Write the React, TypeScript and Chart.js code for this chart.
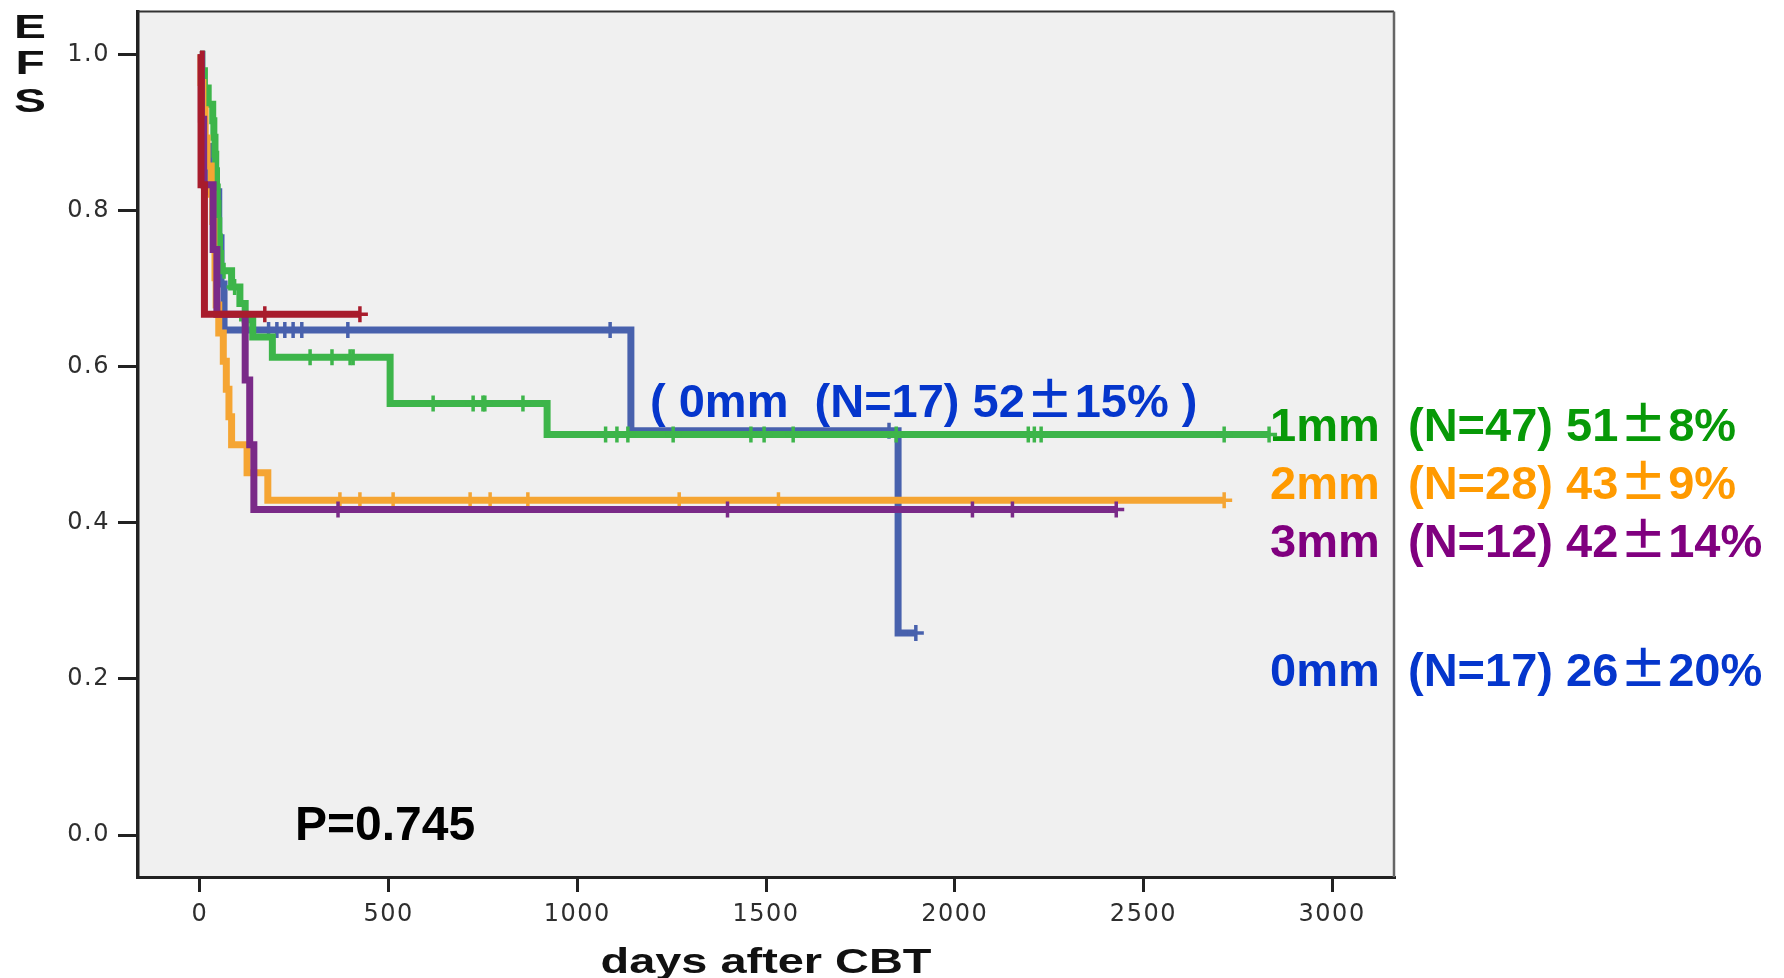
import React, { useEffect, useRef } from "react";
import { Chart, registerables } from "chart.js";

Chart.register(...registerables);

// Axis ticks
const xTicks = [0, 500, 1000, 1500, 2000, 2500, 3000];
const yTicks = [0, 0.2, 0.4, 0.6, 0.8, 1.0];

// Kaplan–Meier steps: day of each event and EFS just after it
const mm0Times = [0, 5, 12, 25, 50, 56, 64, 1142, 1850];
const mm0Surv = [1, 0.941, 0.882, 0.824, 0.765, 0.706, 0.647, 0.518, 0.259];
const mm0Censor = [182, 204, 225, 247, 270, 392, 1087, 1826, 1897];

const mm1Times = [0, 5, 12, 22, 34, 37, 40, 42, 44, 46, 48, 50, 52, 55, 84, 106, 120, 140, 192, 504, 920];
const mm1Surv = [1, 0.979, 0.957, 0.936, 0.915, 0.894, 0.872, 0.851, 0.83, 0.809, 0.787, 0.766, 0.745, 0.723, 0.702, 0.681, 0.66, 0.638, 0.612, 0.553, 0.513];
const mm1Censor = [64, 92, 125, 292, 350, 398, 406, 618, 724, 750, 755, 856, 1075, 1105, 1134, 1254, 1460, 1495, 1572, 1845, 2195, 2211, 2229, 2714, 2833];

const mm2Times = [0, 3, 8, 14, 19, 30, 34, 37, 40, 43, 50, 62, 70, 77, 84, 125, 180];
const mm2Surv = [1, 0.964, 0.929, 0.893, 0.857, 0.821, 0.786, 0.75, 0.714, 0.679, 0.643, 0.607, 0.571, 0.536, 0.5, 0.464, 0.429];
const mm2Censor = [371, 424, 512, 716, 769, 869, 1270, 1533, 2714];

const mm3Times = [0, 4, 10, 35, 45, 120, 132, 143];
const mm3Surv = [1, 0.917, 0.833, 0.75, 0.667, 0.583, 0.5, 0.417];
const mm3Censor = [366, 1398, 2047, 2153, 2428];

const otherTimes = [0, 3, 12];
const otherSurv = [1, 0.833, 0.667];
const otherCensor = [172, 424];

// Group summary labels
const groupNames = ["1mm", "2mm", "3mm", "0mm"];
const groupStats = ["(N=47) 51±8%", "(N=28) 43±9%", "(N=12) 42±14%", "(N=17) 26±20%"];
const groupTextColors = ["#079907", "#FF9A00", "#80007F", "#0536CC"];
const inlineNote = "( 0mm  (N=17) 52±15% )";
const pValue = "P=0.745";

type Pt = { x: number; y: number };

function stepPoints(times: number[], surv: number[], censor: number[]): Pt[] {
  const pts = times.map((t, i) => ({ x: t, y: surv[i] }));
  const end = Math.max(times[times.length - 1], ...censor);
  pts.push({ x: end, y: surv[surv.length - 1] });
  return pts;
}

function censorPoints(times: number[], surv: number[], censor: number[]): Pt[] {
  return censor.map((c) => {
    let v = surv[0];
    for (let i = 0; i < times.length; i++) if (times[i] <= c) v = surv[i];
    return { x: c, y: v };
  });
}

function curveSets(label: string, color: string, times: number[], surv: number[], censor: number[]) {
  return [
    {
      label: label + " censored",
      data: censorPoints(times, surv, censor),
      showLine: false,
      pointStyle: "cross" as const,
      pointRadius: 8,
      pointBorderWidth: 3.5,
      pointBorderColor: color,
      borderColor: color,
      backgroundColor: color,
    },
    {
      label,
      data: stepPoints(times, surv, censor),
      stepped: true,
      borderColor: color,
      borderWidth: 7,
      borderCapStyle: "butt" as const,
      borderJoinStyle: "miter" as const,
      pointRadius: 0,
      fill: false,
    },
  ];
}

const SANS = '"Liberation Sans", Arial, sans-serif';
const CJK = '"Noto Sans CJK JP", sans-serif';

function drawRich(ctx: CanvasRenderingContext2D, text: string, x: number, y: number, size: number, color: string) {
  ctx.fillStyle = color;
  ctx.textAlign = "left";
  ctx.textBaseline = "alphabetic";
  let cx = x;
  for (const part of text.split(/(±)/)) {
    if (!part) continue;
    if (part === "±") {
      ctx.font = `bold ${size}px ${CJK}`;
      const w = ctx.measureText("±").width;
      const cell = Math.max(w, size * 1.06);
      ctx.fillText("±", cx + (cell - w) / 2, y);
      cx += cell;
    } else {
      ctx.font = `bold ${size}px ${SANS}`;
      ctx.fillText(part, cx, y);
      cx += ctx.measureText(part).width;
    }
  }
}

function drawStretched(ctx: CanvasRenderingContext2D, text: string, cx: number, baseline: number, font: string, sx: number, color: string) {
  ctx.save();
  ctx.translate(cx, baseline);
  ctx.scale(sx, 1);
  ctx.font = font;
  ctx.fillStyle = color;
  ctx.textAlign = "center";
  ctx.textBaseline = "alphabetic";
  ctx.fillText(text, 0, 0);
  ctx.restore();
}

const framePlugin = {
  id: "frame",
  beforeDraw(chart: any) {
    const { ctx, chartArea: a } = chart;
    ctx.save();
    ctx.fillStyle = "#F0F0F0";
    ctx.fillRect(a.left, a.top, a.right - a.left, a.bottom - a.top);
    ctx.restore();
    ctx.letterSpacing = "1.5px";
  },
  afterDraw(chart: any) {
    const { ctx, chartArea: a } = chart;
    ctx.letterSpacing = "0px";
    ctx.save();
    // top and right edges of the plot frame
    ctx.strokeStyle = "#333";
    ctx.lineWidth = 2;
    ctx.beginPath();
    ctx.moveTo(a.left, a.top);
    ctx.lineTo(a.right, a.top);
    ctx.stroke();
    ctx.strokeStyle = "#666";
    ctx.lineWidth = 2.5;
    ctx.beginPath();
    ctx.moveTo(a.right, a.top);
    ctx.lineTo(a.right, a.bottom);
    ctx.stroke();

    // axis titles
    drawStretched(ctx, "days after CBT", (a.left + a.right) / 2, 973, `bold 35px ${SANS}`, 1.34, "#111");
    const efs = ["E", "F", "S"];
    const base = [38, 74, 112];
    efs.forEach((c, i) => drawStretched(ctx, c, 30, base[i], `bold 33px ${SANS}`, 1.45, "#111"));

    // p-value
    ctx.font = `bold 48px ${SANS}`;
    ctx.fillStyle = "#000";
    ctx.textAlign = "left";
    ctx.fillText(pValue, 295, 840);

    // inline note next to the 0mm curve
    drawRich(ctx, inlineNote, 650, 417, 47, "#0536CC");

    // group summaries
    const baselines = [441, 499, 557, 686];
    groupNames.forEach((g, i) => {
      drawRich(ctx, g, 1270, baselines[i], 47, groupTextColors[i]);
      drawRich(ctx, groupStats[i], 1408, baselines[i], 47, groupTextColors[i]);
    });
    ctx.restore();
  },
};

export default function App() {
  const ref = useRef<HTMLCanvasElement>(null);

  useEffect(() => {
    const datasets = [
      ...curveSets("other", "#A81C2C", otherTimes, otherSurv, otherCensor),
      ...curveSets("3mm", "#7A2A88", mm3Times, mm3Surv, mm3Censor),
      ...curveSets("2mm", "#F5A533", mm2Times, mm2Surv, mm2Censor),
      ...curveSets("1mm", "#3DB54A", mm1Times, mm1Surv, mm1Censor),
      ...curveSets("0mm", "#4861AD", mm0Times, mm0Surv, mm0Censor),
    ];

    const tickFont = { family: '"DejaVu Sans", sans-serif', size: 24 };

    const chart = new Chart(ref.current!, {
      type: "line",
      data: { datasets: datasets as any },
      options: {
        animation: false,
        responsive: false,
        maintainAspectRatio: false,
        devicePixelRatio: 1,
        events: [],
        layout: { padding: { left: 8, top: 9, right: 390, bottom: 0 } },
        plugins: { legend: { display: false }, tooltip: { enabled: false }, title: { display: false } },
        scales: {
          x: {
            type: "linear",
            min: -164,
            max: 3164,
            afterBuildTicks: (s: any) => {
              s.ticks = xTicks.map((v) => ({ value: v }));
            },
            afterFit: (s: any) => {
              s.height = 101;
              s.paddingLeft = 0;
              s.paddingRight = 0;
              s.paddingTop = 0;
              s.paddingBottom = 0;
            },
            grid: { drawOnChartArea: false, drawTicks: true, tickLength: 15, tickWidth: 3, tickColor: "#222", lineWidth: 3 },
            border: { display: true, color: "#222", width: 3 },
            ticks: { font: tickFont, color: "#2e2e2e", padding: 8, maxRotation: 0, autoSkip: false, callback: (v: any) => String(v) },
          },
          y: {
            type: "linear",
            min: -0.0536,
            max: 1.0549,
            afterBuildTicks: (s: any) => {
              s.ticks = yTicks.map((v) => ({ value: v }));
            },
            afterFit: (s: any) => {
              s.width = 130;
              s.paddingLeft = 0;
              s.paddingRight = 0;
              s.paddingTop = 0;
              s.paddingBottom = 0;
            },
            grid: { drawOnChartArea: false, drawTicks: true, tickLength: 20, tickWidth: 3, tickColor: "#222", lineWidth: 3 },
            border: { display: true, color: "#222", width: 3.5 },
            ticks: { font: tickFont, color: "#2e2e2e", padding: 8, autoSkip: false, callback: (v: any) => Number(v).toFixed(1) },
          },
        },
      },
      plugins: [framePlugin],
    });
    return () => chart.destroy();
  }, []);

  return (
    <div style={{ position: "fixed", left: 0, top: 0, width: 1784, height: 978, background: "#fff" }}>
      <canvas ref={ref} width={1784} height={978} style={{ display: "block", width: 1784, height: 978 }} />
    </div>
  );
}
